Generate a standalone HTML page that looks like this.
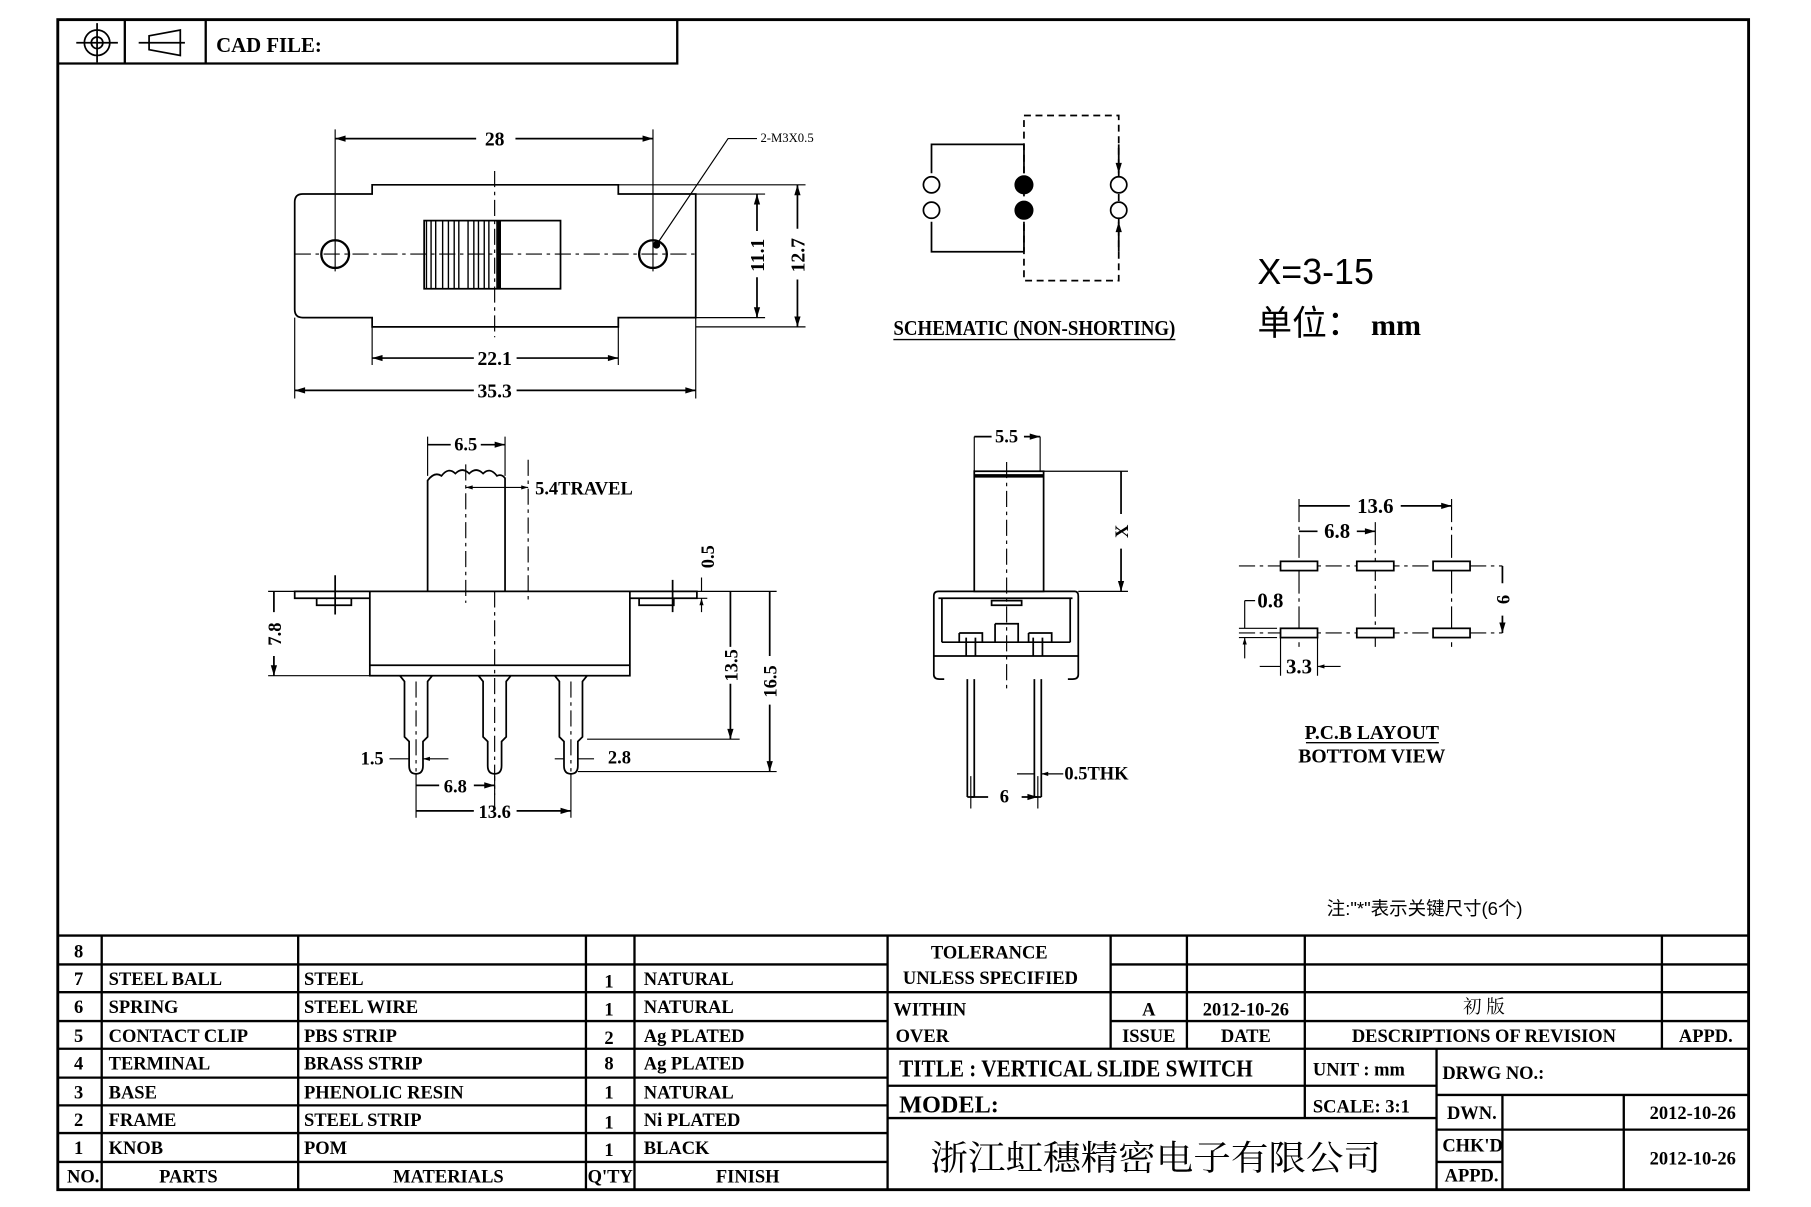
<!DOCTYPE html>
<html><head><meta charset="utf-8"><style>
html,body{margin:0;padding:0;background:#fff;}
svg{display:block;}
text{font-family:"Liberation Serif","Noto Serif CJK SC",serif;font-weight:bold;fill:#000;}
.n{font-weight:normal !important;}
</style></head><body>
<svg width="1811" height="1207" viewBox="0 0 1567 1045" preserveAspectRatio="none" xmlns="http://www.w3.org/2000/svg">
<defs>
<marker id="a" viewBox="0 0 10 10" refX="10" refY="5" markerWidth="8" markerHeight="6" orient="auto-start-reverse"><path d="M0,2 L10,5 L0,8 z" fill="#000"/></marker>
</defs>
<g stroke="#000" fill="none" stroke-width="1.5">
<rect x="50" y="17" width="1463" height="1013" stroke-width="2.5"/>
<path d="M50,55 H586 V17 M108,17 V55 M178,17 V55" stroke-width="2"/>
<circle cx="84" cy="37" r="11"/><circle cx="84" cy="37" r="5"/>
<path d="M66,37 H102 M84,20 V54"/>
<path d="M120,37 H160 M129,31 L156,26 V48 L129,43 Z"/>
</g>
<text x="187" y="45" font-size="18">CAD FILE:</text>

<!-- TOP VIEW -->
<g stroke="#000" fill="none" stroke-width="1.5">
<path d="M262,168 H322 V160 H535 V168 H602 V275 H535 V283 H322 V275 H262 Q255,275 255,268 V175 Q255,168 262,168 Z"/>
<circle cx="290" cy="220" r="12" stroke-width="2"/>
<circle cx="565" cy="220" r="12" stroke-width="2"/>
<rect x="367" y="191" width="118" height="59"/>
<path d="M369,191 V250 M373,191 V250 M377,191 V250 M383,191 V250 M388,191 V250 M393,191 V250 M397,191 V250 M405,191 V250 M410,191 V250 M414,191 V250 M419,191 V250 M423,191 V250 M430,191 V250" stroke-width="1.2"/>
<path d="M432,191 V250" stroke-width="3"/>
<path d="M255,220 H602" stroke-dasharray="14,4,3,4" stroke-width="1"/>
<path d="M428,148 V292" stroke-dasharray="14,4,3,4" stroke-width="1"/>
<path d="M290,112 V235 M565,112 V235" stroke-width="1"/>
<path d="M290,120 H412 M446,120 H565" marker-start="url(#a)" marker-end="url(#a)"/>
<path d="M568,212 L630,120 H655" stroke-width="1"/>
<circle cx="568" cy="212" r="2.5" fill="#000"/>
<path d="M322,283 V316 M535,283 V316" stroke-width="1"/>
<path d="M322,310 H410 M447,310 H535" marker-start="url(#a)" marker-end="url(#a)"/>
<path d="M255,275 V345 M602,275 V345" stroke-width="1"/>
<path d="M255,338 H410 M447,338 H602" marker-start="url(#a)" marker-end="url(#a)"/>
<path d="M602,168 H662 M602,275 H662" stroke-width="1"/>
<path d="M655,168 V200 M655,240 V275" marker-start="url(#a)" marker-end="url(#a)"/>
<path d="M535,160 H697 M602,283 H697" stroke-width="1"/>
<path d="M690,160 V198 M690,242 V283" marker-start="url(#a)" marker-end="url(#a)"/>
</g>
<text x="428" y="126" font-size="17" text-anchor="middle">28</text>
<text x="658" y="123" font-size="11" class="n">2-M3X0.5</text>
<text x="428" y="316" font-size="17" text-anchor="middle">22.1</text>
<text x="428" y="344" font-size="17" text-anchor="middle">35.3</text>
<text transform="translate(661,221) rotate(-90)" font-size="17" text-anchor="middle">11.1</text>
<text transform="translate(696,221) rotate(-90)" font-size="17" text-anchor="middle">12.7</text>

<!-- SCHEMATIC -->
<g stroke="#000" fill="none" stroke-width="1.5">
<rect x="886" y="100" width="82" height="143" stroke-dasharray="6,4"/>
<path d="M886,125 H806 V150 M886,125 V150 M968,125 V150" marker-end="url(#a)"/>
<path d="M886,218 H806 V192 M886,218 V192 M968,218 V192" marker-end="url(#a)"/>
<circle cx="806" cy="160" r="7" fill="#fff"/><circle cx="806" cy="182" r="7" fill="#fff"/>
<circle cx="968" cy="160" r="7" fill="#fff"/><circle cx="968" cy="182" r="7" fill="#fff"/>
<circle cx="886" cy="160" r="7.5" fill="#000"/><circle cx="886" cy="182" r="7.5" fill="#000"/>
<path d="M773,294 H1017" stroke-width="1.2"/>
</g>
<text x="773" y="290" font-size="18" textLength="244" lengthAdjust="spacingAndGlyphs">SCHEMATIC (NON-SHORTING)</text>
<text x="1088" y="246" font-size="31" class="n" style="font-family:'Liberation Sans',sans-serif">X=3-15</text>
<text x="1088" y="290" font-size="30" class="n" style="font-family:'Liberation Sans','Noto Sans CJK SC',sans-serif">单位： <tspan style="font-family:'Liberation Serif',serif;font-weight:bold" font-size="26">mm</tspan></text>

<!-- FRONT VIEW -->
<g stroke="#000" fill="none" stroke-width="1.5">
<path d="M370,512 V416 Q376,408 382,412 Q388,404 394,410 Q400,404 406,410 Q412,404 418,410 Q424,404 430,412 Q434,410 437,414 V512"/>
<path d="M370,378 V412 M437,378 V412" stroke-width="1"/>
<path d="M390,385 H370 M416,385 H437" marker-end="url(#a)"/>
<path d="M403,402 V522" stroke-dasharray="14,4,3,4" stroke-width="1"/>
<path d="M457,398 V522" stroke-dasharray="14,4,3,4" stroke-width="1"/>
<path d="M403,422 H457" marker-start="url(#a)" marker-end="url(#a)" stroke-width="1"/>
<rect x="320" y="512" width="225" height="73"/>
<path d="M320,576 H545"/>
<path d="M320,512 H255 V518 H320 M274,518 V524 H304 V518"/>
<path d="M545,512 H603 V518 H545 M553,518 V524 H583 V518"/>
<path d="M290,498 V532 M582,502 V530" stroke-width="1.5"/>
<path d="M428,512 V700" stroke-dasharray="14,4,3,4" stroke-width="1"/>
<path d="M346,585 L350,590 V638 L354,642 V663 Q354,670 360,670 Q366,670 366,663 V642 L370,638 V590 L374,585"/>
<path d="M414,585 L418,590 V638 L422,642 V663 Q422,670 428,670 Q434,670 434,663 V642 L438,638 V590 L442,585"/>
<path d="M480,585 L484,590 V638 L488,642 V663 Q488,670 494,670 Q500,670 500,663 V642 L504,638 V590 L508,585"/>
<path d="M360,590 V668 M494,590 V668" stroke-dasharray="14,4,3,4" stroke-width="1"/>
<path d="M232,512 H255 M232,585 H320" stroke-width="1"/>
<path d="M237,530 V512 M237,568 V585" marker-end="url(#a)"/>
<path d="M545,512 H672 M508,640 H640 M500,668 H672" stroke-width="1"/>
<path d="M632,560 V512 M632,592 V640" marker-end="url(#a)"/>
<path d="M666,568 V512 M666,610 V668" marker-end="url(#a)"/>
<path d="M607,500 V512 M607,530 V518" marker-end="url(#a)" stroke-width="1"/>
<path d="M603,518 H612" stroke-width="1"/>
<path d="M337,657 H354 M388,657 H366" marker-end="url(#a)" stroke-width="1"/>
<path d="M480,657 H488 M514,657 H500" stroke-width="1"/>
<path d="M360,670 V708 M428,672 V688 M494,670 V708" stroke-width="1"/>
<path d="M380,680 H360 M410,680 H428" marker-end="url(#a)"/>
<path d="M410,702 H360 M447,702 H494" marker-end="url(#a)"/>
</g>
<text x="403" y="390" font-size="16" text-anchor="middle">6.5</text>
<text x="463" y="428" font-size="16">5.4TRAVEL</text>
<text transform="translate(243,549) rotate(-90)" font-size="16" text-anchor="middle">7.8</text>
<text transform="translate(618,482) rotate(-90)" font-size="16" text-anchor="middle">0.5</text>
<text transform="translate(638,576) rotate(-90)" font-size="16" text-anchor="middle">13.5</text>
<text transform="translate(672,590) rotate(-90)" font-size="16" text-anchor="middle">16.5</text>
<text x="312" y="662" font-size="16">1.5</text>
<text x="526" y="661" font-size="16">2.8</text>
<text x="394" y="686" font-size="16" text-anchor="middle">6.8</text>
<text x="428" y="708" font-size="16" text-anchor="middle">13.6</text>

<!-- SIDE VIEW -->
<g stroke="#000" fill="none" stroke-width="1.5">
<path d="M843,378 V408 M900,378 V408" stroke-width="1"/>
<path d="M858,378 H843 M886,378 H900" marker-end="url(#a)"/>
<rect x="843" y="408" width="60" height="104"/>
<path d="M843,412 H903" stroke-width="3"/>
<path d="M871,400 V600" stroke-dasharray="14,4,3,4" stroke-width="1"/>
<path d="M903,408 H976 M933,512 H976" stroke-width="1"/>
<path d="M970,445 V408 M970,475 V512" marker-end="url(#a)"/>
<path d="M812,512 H930 Q933,512 933,516 V584 Q933,588 928,588 H924 M812,512 Q808,512 808,516 V584 Q808,588 813,588 H817"/>
<path d="M812,518 H928 M815,518 V556 M926,518 V556 M815,556 H926 M808,568 H933"/>
<path d="M858,520 H884 V524 H858 Z"/>
<path d="M861,540 H881 V556 M861,540 V556 M830,548 H850 V556 M830,548 V556 M890,548 H910 V556 M890,548 V556"/>
<path d="M836,552 V568 M844,552 V568 M894,552 V568 M902,552 V568"/>
<path d="M837,588 V690 M843,588 V690 M895,588 V690 M901,588 V690"/>
<path d="M837,690 H843 M895,690 H901"/>
<path d="M840,672 V700 M898,672 V700" stroke-width="1"/>
<path d="M855,690 H840 M884,690 H898" marker-end="url(#a)"/>
<path d="M880,670 H895 M920,670 H901" marker-end="url(#a)" stroke-width="1"/>
</g>
<text x="871" y="383" font-size="16" text-anchor="middle">5.5</text>
<text transform="translate(976,460) rotate(-90)" font-size="16" text-anchor="middle">X</text>
<text x="921" y="675" font-size="16">0.5THK</text>
<text x="869" y="695" font-size="16" text-anchor="middle">6</text>

<!-- PCB -->
<g stroke="#000" fill="none" stroke-width="1.5">
<path d="M1072,490 H1300 M1072,548 H1300" stroke-dasharray="14,4,3,4" stroke-width="1"/>
<path d="M1124,432 V560 M1190,452 V560 M1256,432 V560" stroke-dasharray="20,4,3,4" stroke-width="1"/>
<rect x="1108" y="486" width="32" height="8" fill="#fff"/><rect x="1174" y="486" width="32" height="8" fill="#fff"/><rect x="1240" y="486" width="32" height="8" fill="#fff"/>
<rect x="1108" y="544" width="32" height="8" fill="#fff"/><rect x="1174" y="544" width="32" height="8" fill="#fff"/><rect x="1240" y="544" width="32" height="8" fill="#fff"/>
<path d="M1168,438 H1124 M1212,438 H1256" marker-end="url(#a)"/>
<path d="M1140,460 H1124 M1174,460 H1190" marker-end="url(#a)"/>
<path d="M1300,505 V490 M1300,533 V548" marker-end="url(#a)"/>
<path d="M1072,544 H1105 M1072,552 H1105 M1108,552 V585 M1140,552 V585" stroke-width="1"/>
<path d="M1077,520 H1086 M1077,520 V544 M1077,570 V552" marker-end="url(#a)" stroke-width="1"/>
<path d="M1090,577 H1108 M1160,577 H1140" marker-end="url(#a)" stroke-width="1"/>
<path d="M1130,643 H1245" stroke-width="1.2"/>
</g>
<text x="1190" y="444" font-size="18" text-anchor="middle">13.6</text>
<text x="1157" y="466" font-size="18" text-anchor="middle">6.8</text>
<text transform="translate(1306,519) rotate(-90)" font-size="16" text-anchor="middle">6</text>
<text x="1088" y="526" font-size="18">0.8</text>
<text x="1124" y="583" font-size="18" text-anchor="middle">3.3</text>
<text x="1187" y="640" font-size="17" text-anchor="middle">P.C.B LAYOUT</text>
<text x="1187" y="660" font-size="17" text-anchor="middle">BOTTOM VIEW</text>
<text x="1148" y="792" font-size="16" class="n" style="font-family:'Liberation Sans','Noto Sans CJK SC',sans-serif">注:"*"表示关键尺寸(6个)</text>

<!-- TABLE -->
<g stroke="#000" fill="none" stroke-width="2">
<path d="M50,810 H1513"/>
<path d="M50,835 H768 M50,859 H768 M50,884 H768 M50,908 H768 M50,933 H768 M50,957 H768 M50,981 H768 M50,1006 H768"/>
<path d="M88,810 V1030 M258,810 V1030 M507,810 V1030 M549,810 V1030 M768,810 V1030"/>
<path d="M961,835 H1513 M768,859 H1513 M961,884 H1513 M768,908 H1513"/>
<path d="M961,810 V908 M1027,810 V908 M1129,810 V968 M1438,810 V908"/>
<path d="M768,940 H1243 M768,968 H1243 M1243,908 V1030 M1243,948 H1513 M1243,978 H1513 M1243,1006 H1300 M1300,948 V1030 M1405,948 V1030"/>
</g>
<g font-size="16">
<text x="64" y="829">8</text>
<text x="64" y="853">7</text><text x="94" y="853">STEEL BALL</text><text x="263" y="853">STEEL</text><text x="523" y="855">1</text><text x="557" y="853">NATURAL</text>
<text x="64" y="877">6</text><text x="94" y="877">SPRING</text><text x="263" y="877">STEEL WIRE</text><text x="523" y="879">1</text><text x="557" y="877">NATURAL</text>
<text x="64" y="902">5</text><text x="94" y="902">CONTACT CLIP</text><text x="263" y="902">PBS STRIP</text><text x="523" y="904">2</text><text x="557" y="902">Ag PLATED</text>
<text x="64" y="926">4</text><text x="94" y="926">TERMINAL</text><text x="263" y="926">BRASS STRIP</text><text x="523" y="926">8</text><text x="557" y="926">Ag PLATED</text>
<text x="64" y="951">3</text><text x="94" y="951">BASE</text><text x="263" y="951">PHENOLIC RESIN</text><text x="523" y="951">1</text><text x="557" y="951">NATURAL</text>
<text x="64" y="975">2</text><text x="94" y="975">FRAME</text><text x="263" y="975">STEEL STRIP</text><text x="523" y="977">1</text><text x="557" y="975">Ni PLATED</text>
<text x="64" y="999">1</text><text x="94" y="999">KNOB</text><text x="263" y="999">POM</text><text x="523" y="1001">1</text><text x="557" y="999">BLACK</text>
<text x="58" y="1024">NO.</text><text x="163" y="1024" text-anchor="middle">PARTS</text><text x="388" y="1024" text-anchor="middle">MATERIALS</text><text x="528" y="1024" text-anchor="middle">Q'TY</text><text x="647" y="1024" text-anchor="middle">FINISH</text>
<text x="856" y="830" text-anchor="middle">TOLERANCE</text>
<text x="857" y="852" text-anchor="middle">UNLESS  SPECIFIED</text>
<text x="773" y="879">WITHIN</text><text x="775" y="902">OVER</text>
<text x="994" y="879" text-anchor="middle">A</text><text x="1078" y="879" text-anchor="middle">2012-10-26</text>
<text x="1284" y="877" text-anchor="middle" class="n">初  版</text>
<text x="994" y="902" text-anchor="middle">ISSUE</text><text x="1078" y="902" text-anchor="middle">DATE</text>
<text x="1284" y="902" text-anchor="middle">DESCRIPTIONS OF REVISION</text><text x="1476" y="902" text-anchor="middle">APPD.</text>
<text x="1136" y="931">UNIT :  mm</text>
<text x="1136" y="963">SCALE:  3:1</text>
<text x="1248" y="934">DRWG NO.:</text>
<text x="1252" y="969">DWN.</text><text x="1502" y="969" text-anchor="end">2012-10-26</text>
<text x="1248" y="997">CHK'D</text><text x="1502" y="1008" text-anchor="end">2012-10-26</text>
<text x="1250" y="1023">APPD.</text>
</g>
<text x="778" y="932" font-size="21" textLength="306" lengthAdjust="spacingAndGlyphs">TITLE :  VERTICAL  SLIDE  SWITCH</text>
<text x="778" y="963" font-size="21">MODEL:</text>
<text x="805" y="1013" font-size="30" class="n" textLength="390" lengthAdjust="spacingAndGlyphs" style="font-family:'Noto Serif CJK SC','Liberation Serif',serif">浙江虹穗精密电子有限公司</text>
</svg>
</body></html>
